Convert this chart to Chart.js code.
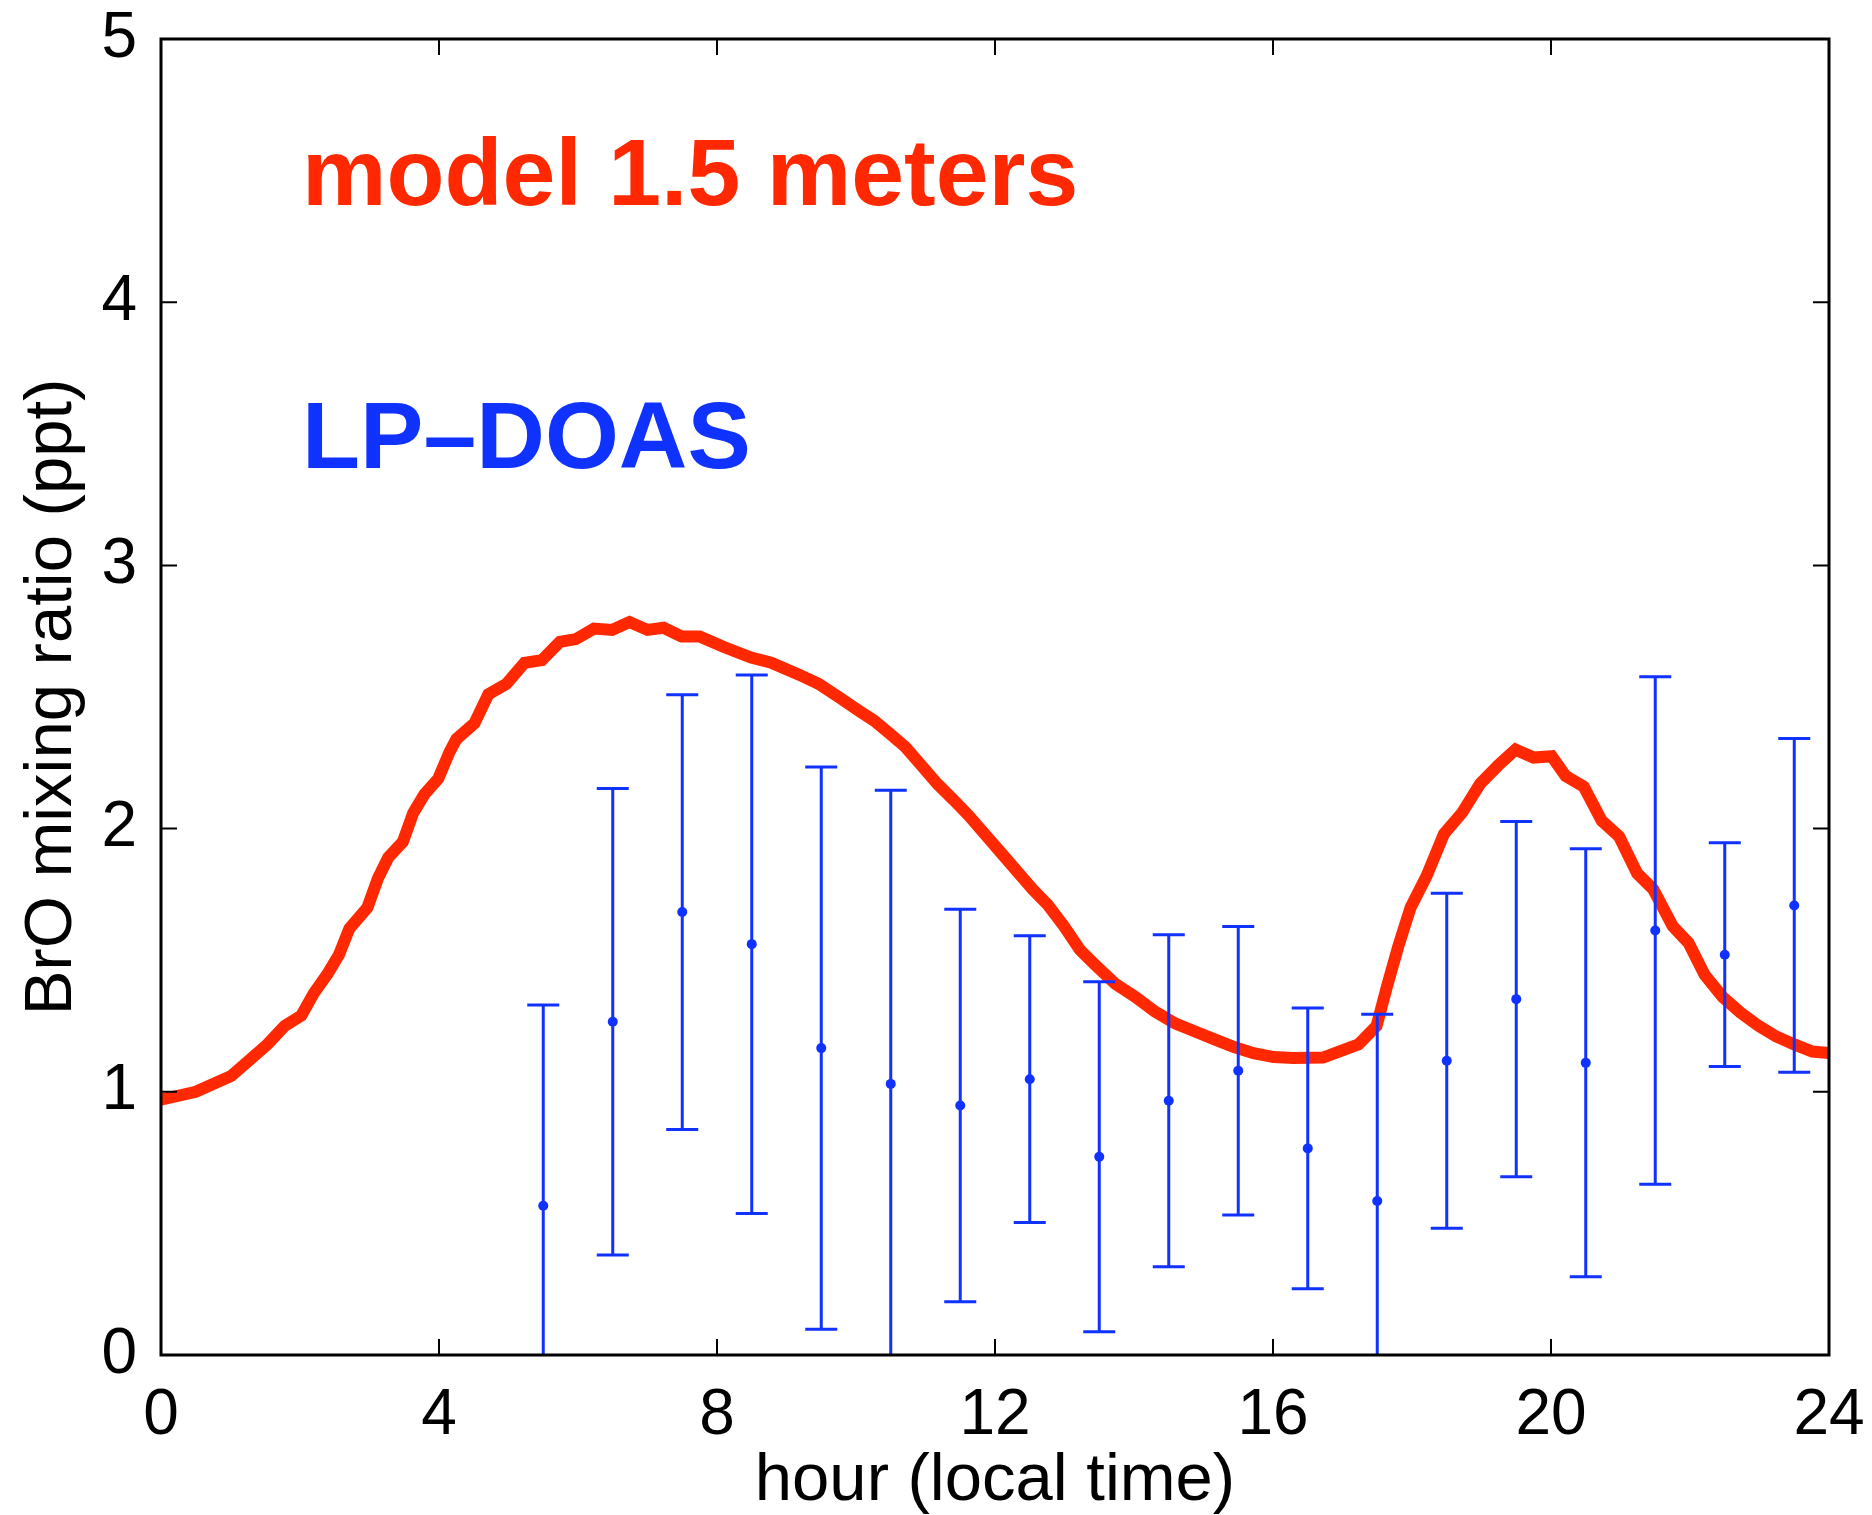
<!DOCTYPE html>
<html>
<head>
<meta charset="utf-8">
<script src="https://cdn.jsdelivr.net/npm/chart.js@4.4.1/dist/chart.umd.min.js"></script>
<style>
  html, body { margin: 0; padding: 0; background: #fff; }
  #wrap { width: 1872px; height: 1515px; position: relative; }
</style>
</head>
<body>
<div id="wrap"><canvas id="broChart"></canvas></div>
<script>
// model BrO at 1.5 m (hour, ppt)
const modelHours = [0.00, 0.50, 1.01, 1.27, 1.53, 1.78, 2.02, 2.20, 2.40, 2.56, 2.71, 2.97, 3.12, 3.27, 3.48,
  3.63, 3.79, 3.99, 4.15, 4.25, 4.51, 4.71, 4.97, 5.23, 5.48, 5.74, 5.97, 6.23, 6.49, 6.74, 7.00, 7.23, 7.49,
  7.75, 8.10, 8.49, 8.78, 9.18, 9.46, 9.75, 10.03, 10.26, 10.49, 10.71, 10.94, 11.17, 11.40, 11.62, 11.85,
  12.08, 12.31, 12.54, 12.76, 12.99, 13.22, 13.45, 13.73, 14.02, 14.30, 14.59, 14.87, 15.15, 15.44, 15.72,
  16.01, 16.29, 16.72, 17.23, 17.49, 17.64, 17.80, 17.98, 18.21, 18.46, 18.72, 18.98, 19.24, 19.49, 19.75,
  20.01, 20.21, 20.47, 20.73, 20.98, 21.24, 21.47, 21.75, 21.98, 22.21, 22.47, 22.73, 22.99, 23.24, 23.50,
  23.76, 24.00];
const modelValues = [0.97, 1.00, 1.06, 1.12, 1.18, 1.25, 1.29, 1.375, 1.45, 1.52, 1.62, 1.70, 1.81, 1.89, 1.95,
  2.06, 2.13, 2.19, 2.29, 2.34, 2.40, 2.51, 2.55, 2.63, 2.64, 2.71, 2.72, 2.76, 2.755, 2.785, 2.755, 2.763, 2.73,
  2.73, 2.69, 2.65, 2.63, 2.585, 2.55, 2.50, 2.45, 2.41, 2.36, 2.31, 2.24, 2.17, 2.11, 2.05, 1.98,
  1.91, 1.84, 1.77, 1.71, 1.63, 1.54, 1.48, 1.41, 1.36, 1.305, 1.26, 1.23, 1.20, 1.17, 1.147,
  1.132, 1.128, 1.13, 1.18, 1.25, 1.40, 1.55, 1.70, 1.82, 1.98, 2.06, 2.17, 2.24, 2.30, 2.27,
  2.275, 2.20, 2.16, 2.03, 1.97, 1.83, 1.77, 1.63, 1.565, 1.445, 1.36, 1.30, 1.25, 1.21, 1.18,
  1.153, 1.147];

// LP-DOAS hourly means and error bars
const obsHours = [5.5, 6.5, 7.5, 8.5, 9.5, 10.5, 11.5, 12.5, 13.5, 14.5, 15.5, 16.5, 17.5, 18.5, 19.5, 20.5, 21.5, 22.5, 23.5];
const obsMean = [0.567, 1.266, 1.683, 1.561, 1.166, 1.03, 0.948, 1.048, 0.753, 0.966, 1.08, 0.785, 0.585, 1.118, 1.352, 1.11, 1.613, 1.521, 1.708];
const obsErr = [0.763, 0.886, 0.826, 1.023, 1.068, 1.116, 0.746, 0.545, 0.665, 0.631, 0.548, 0.533, 0.71, 0.636, 0.675, 0.813, 0.964, 0.425, 0.634];

const xTicks = [0, 4, 8, 12, 16, 20, 24];
const yTicks = [0, 1, 2, 3, 4, 5];

const RED = 'rgb(255,40,0)';
const BLUE = 'rgb(16,50,255)';
const FONT = '"Liberation Sans", Arial, Helvetica, sans-serif';

const errorBars = {
  id: 'errorBars',
  afterDatasetsDraw(chart) {
    const { ctx, chartArea, scales: { x, y } } = chart;
    ctx.save();
    ctx.beginPath();
    ctx.rect(chartArea.left, chartArea.top, chartArea.right - chartArea.left, chartArea.bottom - chartArea.top);
    ctx.clip();
    ctx.strokeStyle = BLUE;
    ctx.lineWidth = 3;
    obsHours.forEach((h, i) => {
      const px = x.getPixelForValue(h);
      const top = y.getPixelForValue(obsMean[i] + obsErr[i]);
      const bot = y.getPixelForValue(obsMean[i] - obsErr[i]);
      ctx.beginPath();
      ctx.moveTo(px, top); ctx.lineTo(px, bot);
      ctx.moveTo(px - 16, top); ctx.lineTo(px + 16, top);
      ctx.moveTo(px - 16, bot); ctx.lineTo(px + 16, bot);
      ctx.stroke();
    });
    ctx.restore();
  }
};

// box, inward ticks on all sides, and the two in-plot labels
const frame = {
  id: 'frame',
  afterDraw(chart) {
    const { ctx, chartArea: a, scales: { x, y } } = chart;
    ctx.save();
    ctx.strokeStyle = '#000';
    ctx.lineWidth = 2;
    ctx.beginPath();
    xTicks.forEach(t => {
      const px = x.getPixelForValue(t);
      ctx.moveTo(px, a.bottom); ctx.lineTo(px, a.bottom - 16);
      ctx.moveTo(px, a.top); ctx.lineTo(px, a.top + 16);
    });
    yTicks.forEach(t => {
      const py = y.getPixelForValue(t);
      ctx.moveTo(a.left, py); ctx.lineTo(a.left + 16, py);
      ctx.moveTo(a.right, py); ctx.lineTo(a.right - 16, py);
    });
    ctx.stroke();
    ctx.lineWidth = 3;
    ctx.strokeRect(a.left, a.top, a.right - a.left, a.bottom - a.top);

    ctx.font = 'bold 95px ' + FONT;
    ctx.textBaseline = 'alphabetic';
    ctx.textAlign = 'left';
    ctx.fillStyle = RED;
    ctx.fillText('model 1.5 meters', x.getPixelForValue(2.03), y.getPixelForValue(4.37));
    ctx.fillStyle = BLUE;
    ctx.fillText('LP\u2013DOAS', x.getPixelForValue(2.03), y.getPixelForValue(3.37));
    ctx.restore();
  }
};

document.addEventListener('DOMContentLoaded', () => {
  const ctx = document.getElementById('broChart').getContext('2d');
  new Chart(ctx, {
    type: 'scatter',
    data: {
      datasets: [
        {
          type: 'line',
          label: 'model 1.5 meters',
          data: modelHours.map((h, i) => ({ x: h, y: modelValues[i] })),
          borderColor: RED,
          borderWidth: 12,
          pointRadius: 0,
          tension: 0,
          fill: false,
          clip: 0
        },
        {
          label: 'LP-DOAS',
          data: obsHours.map((h, i) => ({ x: h, y: obsMean[i] })),
          backgroundColor: BLUE,
          borderWidth: 0,
          pointRadius: 5
        }
      ]
    },
    options: {
      responsive: true,
      maintainAspectRatio: false,
      devicePixelRatio: 1,
      animation: false,
      layout: { padding: { top: 39, right: 43, left: 0, bottom: 0 } },
      plugins: { legend: { display: false }, tooltip: { enabled: false } },
      scales: {
        x: {
          type: 'linear',
          min: 0, max: 24,
          afterBuildTicks: s => { s.ticks = xTicks.map(v => ({ value: v })); },
          afterFit: s => { s.height = 160; s.paddingLeft = 0; s.paddingRight = 0; },
          grid: { display: false },
          border: { display: false },
          ticks: { color: '#000', padding: 15, font: { size: 64, family: FONT } },
          title: {
            display: true, text: 'hour (local time)', color: '#000',
            font: { size: 67, family: FONT, lineHeight: 1.0 },
            padding: { top: 0, bottom: 0 }
          }
        },
        y: {
          min: 0, max: 5,
          afterBuildTicks: s => { s.ticks = yTicks.map(v => ({ value: v })); },
          afterFit: s => { s.width = 161; s.paddingTop = 0; s.paddingBottom = 0; },
          grid: { display: false },
          border: { display: false },
          ticks: { color: '#000', padding: 16, font: { size: 64, family: FONT } },
          title: {
            display: true, text: 'BrO mixing ratio (ppt)', color: '#000',
            font: { size: 67, family: FONT, lineHeight: 1.0 },
            padding: { top: 19, bottom: 0 }
          }
        }
      }
    },
    plugins: [errorBars, frame]
  });
});
</script>
</body>
</html>
